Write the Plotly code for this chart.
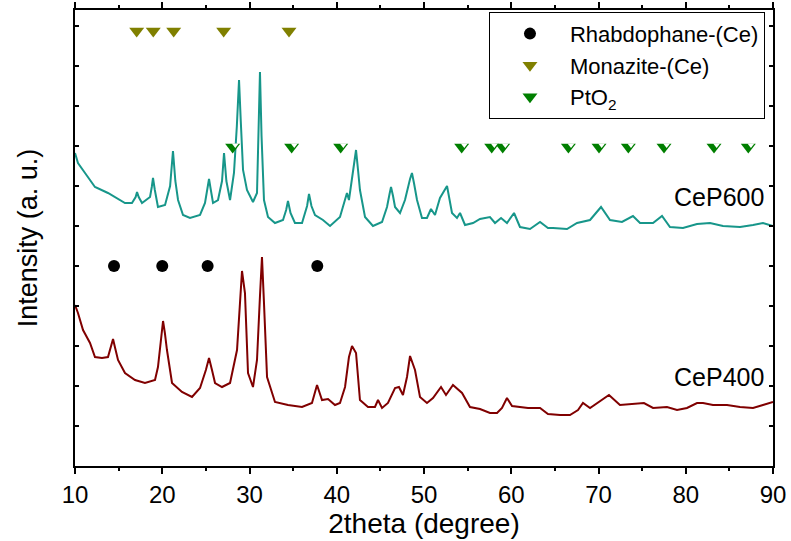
import plotly.graph_objects as go

# CeP600 pattern (2theta in degree, intensity in a.u., offset trace)
cep600_x = [10.0, 10.34, 11.15, 12.29, 13.78, 15.73, 16.53, 16.95, 17.11, 17.3, 17.68, 18.60,
            18.8, 18.94, 19.15, 19.51, 20.32, 20.9, 21.23, 21.5, 21.81, 22.38, 23.18, 24.33,
            24.90, 25.2, 25.36, 25.55, 25.82, 26.39, 26.85, 27.08, 27.35, 27.77, 28.22,
            28.55, 28.80, 29.0, 29.26, 29.71, 30.40, 30.86, 31.05, 31.20, 31.38, 31.66,
            32.12, 32.92, 33.84, 34.2, 34.41, 34.7, 35.21, 36.02, 36.6, 36.82, 37.1,
            37.51, 38.42, 39.23, 40.37, 41.17, 41.40, 42.0, 42.21, 42.45, 42.66, 43.24,
            44.15, 45.19, 45.76, 46.05, 46.22, 46.45, 46.68, 47.25, 47.82, 48.4, 48.62,
            48.85, 49.20, 49.77, 50.34, 50.80, 51.26, 51.83, 52.64, 53.21, 53.78, 54.13,
            54.70, 55.62, 56.42, 57.56, 58.14, 58.83, 59.51, 60.32, 61.00, 62.15, 63.30,
            64.21, 64.79, 66.39, 67.54, 69.03, 70.29, 71.32, 72.69, 73.95, 74.76, 76.25,
            77.28, 78.19, 79.68, 81.29, 82.78, 84.27, 86.22, 87.71, 88.85, 90.0]
cep600_y = [3130, 3030, 2930, 2790, 2730, 2630, 2630, 2690, 2740, 2690, 2630, 2690,
            2790, 2880, 2760, 2590, 2610, 2800, 3150, 2850, 2660, 2510, 2480, 2510,
            2630, 2780, 2870, 2770, 2630, 2660, 2850, 3130, 2850, 2660, 2930,
            3400, 3860, 3450, 2960, 2760, 2640, 2730, 3300, 3940, 3300, 2660,
            2490, 2430, 2460, 2560, 2650, 2530, 2430, 2430, 2600, 2720, 2600,
            2510, 2460, 2400, 2490, 2730, 2660, 3000, 3160, 2950, 2760, 2490,
            2400, 2440, 2590, 2720, 2790, 2700, 2590, 2530, 2660, 2870, 2930,
            2830, 2660, 2480, 2480, 2570, 2510, 2680, 2800, 2530, 2480, 2530,
            2410, 2430, 2470, 2490, 2430, 2480, 2430, 2530, 2390, 2370, 2440,
            2380, 2380, 2370, 2430, 2460, 2590, 2460, 2440, 2500, 2430, 2430,
            2500, 2390, 2380, 2420, 2430, 2400, 2390, 2410, 2430, 2400]

# CeP400 pattern
cep400_x = [10.0, 10.34, 10.92, 11.72, 12.29, 13.09, 13.78, 14.15, 14.36, 14.6, 14.93, 15.73,
            16.88, 18.02, 19.17, 19.51, 19.85, 20.09, 20.3, 20.54, 21.12, 22.26, 23.41, 24.33,
            25.0, 25.36, 25.7, 26.05, 26.85, 27.77, 28.57, 28.9, 29.14, 29.48, 29.83, 30.40,
            30.86, 31.2, 31.43, 31.65, 32.01, 32.92, 34.41, 36.02, 37.16, 37.74, 38.31, 39.00,
            39.80, 40.37, 40.95, 41.40, 41.75, 42.21, 42.66, 43.58, 44.38, 44.73, 45.19,
            45.87, 46.68, 47.13, 47.59, 48.05, 48.40, 48.97, 49.54, 50.34, 51.03,
            51.95, 52.52, 53.32, 54.36, 55.27, 56.42, 57.56, 58.37, 58.94, 59.51,
            60.09, 60.77, 61.92, 63.30, 64.21, 65.59, 66.73, 67.65, 68.22, 69.03,
            71.20, 72.46, 73.95, 75.21, 76.25, 77.85, 79.00, 80.14, 81.29, 81.98,
            83.12, 84.73, 86.22, 87.71, 88.85, 90.0]
cep400_y = [1610, 1530, 1360, 1230, 1090, 1080, 1090, 1200, 1270, 1180, 1060, 930,
            860, 830, 860, 990, 1250, 1450, 1330, 1160, 830, 740, 690, 780,
            960, 1080, 960, 830, 790, 830, 1160, 1600, 1950, 1730, 930, 790,
            1060, 1700, 2090, 1650, 890, 640, 610, 590, 630, 810, 660, 670,
            610, 630, 790, 1090, 1200, 1130, 660, 590, 590, 660, 580,
            630, 780, 790, 710, 890, 1100, 960, 690, 630, 680,
            790, 710, 810, 730, 590, 570, 530, 530, 580, 680,
            600, 590, 580, 580, 520, 510, 510, 560, 630, 580,
            710, 610, 620, 630, 580, 590, 560, 580, 630, 630,
            610, 610, 590, 580, 610, 640]

# reference phase positions
rhabdophane_x = [14.47, 20.0, 25.2, 37.77]
monazite_x = [17.07, 18.97, 21.31, 27.04, 34.53]
pto2_x = [28.07, 34.83, 40.45, 54.32, 57.76, 59.02, 66.55, 70.06, 73.42, 77.51, 83.24, 87.17]

rhabdophane_level = 2000
monazite_level = 4350
pto2_level = 3190

font_family = "Liberation Sans, Arial, sans-serif"

fig = go.Figure()

fig.add_trace(go.Scatter(x=cep600_x, y=cep600_y, mode="lines", showlegend=False,
                         line=dict(color="#17968a", width=2)))
fig.add_trace(go.Scatter(x=cep400_x, y=cep400_y, mode="lines", showlegend=False,
                         line=dict(color="#800000", width=2)))

fig.add_trace(go.Scatter(
    x=rhabdophane_x, y=[rhabdophane_level] * len(rhabdophane_x), mode="markers",
    name="Rhabdophane-(Ce)", legendgroup="a",
    marker=dict(symbol="circle", size=12, color="black"),
))
fig.add_trace(go.Scatter(
    x=monazite_x, y=[monazite_level] * len(monazite_x), mode="markers",
    name="Monazite-(Ce)", legendgroup="b",
    marker=dict(symbol="triangle-down", size=13, color="#808000"),
))
fig.add_trace(go.Scatter(
    x=pto2_x, y=[pto2_level] * len(pto2_x), mode="markers",
    name="PtO<sub>2</sub>", legendgroup="c",
    marker=dict(symbol="triangle-down", size=13, color="#007f00"),
))
# white right half of the PtO2 symbol
fig.add_trace(go.Scatter(
    x=[v + 0.3 for v in pto2_x], y=[pto2_level + 20] * len(pto2_x), mode="markers",
    legendgroup="c", showlegend=False, hoverinfo="skip",
    marker=dict(symbol="triangle-down", size=6, color="white"),
))

fig.add_annotation(x=89.2, y=2690, text="CeP600", showarrow=False, xanchor="right",
                   font=dict(size=25, color="black", family=font_family))
fig.add_annotation(x=89.2, y=890, text="CeP400", showarrow=False, xanchor="right",
                   font=dict(size=25, color="black", family=font_family))

fig.update_layout(
    width=791, height=541,
    margin=dict(l=75, r=18, t=10, b=75, autoexpand=False),
    paper_bgcolor="white", plot_bgcolor="white",
    font=dict(family=font_family, color="black"),
    legend=dict(
        x=0.9885, y=0.996, xanchor="right", yanchor="top",
        bordercolor="black", borderwidth=1, bgcolor="white",
        font=dict(size=22, family=font_family),
        itemwidth=70,
        traceorder="grouped", tracegroupgap=0,
    ),
)
fig.update_xaxes(
    range=[10, 90], tick0=10, dtick=10, automargin=False,
    ticks="outside", ticklen=6, tickwidth=1.5, tickcolor="black",
    minor=dict(dtick=5, ticks="outside", ticklen=3, tickwidth=1.5, tickcolor="black"),
    showline=True, linecolor="black", linewidth=1.5, mirror="allticks",
    showgrid=False, zeroline=False,
    tickfont=dict(size=24, family=font_family),
    title=dict(text="2theta (degree)", font=dict(size=28, family=font_family), standoff=6),
)
fig.update_yaxes(
    range=[0, 4560], tick0=0, dtick=400, automargin=False,
    ticks="inside", ticklen=4, tickwidth=1.5, tickcolor="black",
    showticklabels=False,
    showline=True, linecolor="black", linewidth=1.5, mirror="allticks",
    showgrid=False, zeroline=False,
    title=dict(text="Intensity (a. u.)", font=dict(size=27, family=font_family), standoff=28),
)

fig.write_html("out.html", config={"displayModeBar": False},
               post_script="document.body.style.margin = '0px';")
